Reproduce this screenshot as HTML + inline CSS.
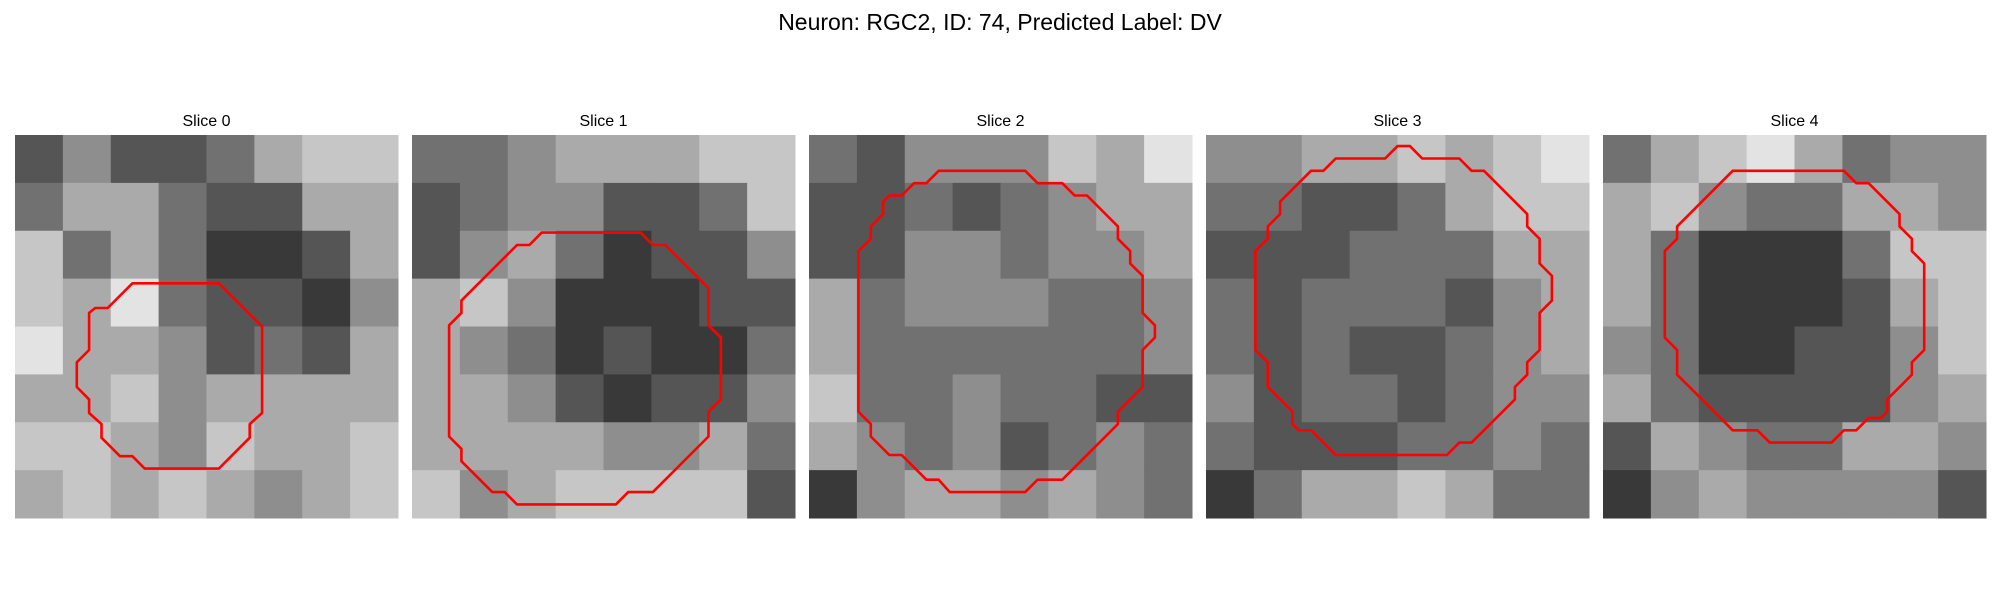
<!DOCTYPE html>
<html><head><meta charset="utf-8"><style>
html,body{margin:0;padding:0;background:#fff;}
svg{display:block;font-family:"Liberation Sans","DejaVu Sans",sans-serif;}
</style></head><body>
<svg id="fig" width="2000" height="600" viewBox="0 0 2000 600">
<text x="1000" y="30" text-anchor="middle" font-size="23" fill="#000">Neuron: RGC2, ID: 74, Predicted Label: DV</text>
</svg>
<script>
const sliceLabels = ["Slice 0","Slice 1","Slice 2","Slice 3","Slice 4"];
// coarse brightness grids (0 dark .. 9 white), 8x8 per slice
const slice0 = [[3,5,3,3,4,6,7,7],[4,6,6,4,3,3,6,6],[7,4,6,4,2,2,3,6],[7,6,8,4,3,3,2,5],[8,6,6,5,3,4,3,6],[6,6,7,5,6,6,6,6],[7,7,6,5,7,6,6,7],[6,7,6,7,6,5,6,7]];
const slice1 = [[4,4,5,6,6,6,7,7],[3,4,5,5,3,3,4,7],[3,5,6,4,2,3,3,5],[6,7,5,2,2,2,3,3],[6,5,4,2,3,2,2,4],[6,6,5,3,2,3,3,5],[6,6,6,6,5,5,6,4],[7,5,6,7,7,7,7,3]];
const slice2 = [[4,3,5,5,5,7,6,8],[3,3,4,3,4,5,6,6],[3,3,5,5,4,5,5,6],[6,4,5,5,5,4,4,5],[6,4,4,4,4,4,4,5],[7,4,4,5,4,4,3,3],[6,5,4,5,3,4,5,4],[2,5,6,6,5,6,5,4]];
const slice3 = [[5,5,6,6,7,6,7,8],[4,4,3,3,4,6,7,7],[3,3,3,4,4,4,6,6],[4,3,4,4,4,3,5,6],[4,3,4,3,3,4,5,6],[5,3,4,4,3,4,5,5],[4,3,3,3,4,4,5,4],[2,4,6,6,7,6,4,4]];
const slice4 = [[4,6,7,8,6,4,5,5],[6,7,5,4,4,6,6,5],[6,4,2,2,2,4,7,7],[6,4,2,2,2,3,6,7],[5,4,2,2,3,3,5,7],[6,4,3,3,3,3,5,6],[3,6,5,4,4,6,6,5],[2,5,6,5,5,5,5,3]];
// contour vertices in pixel-cell units (image is 31x31)
const contour0 = [[9.5,12],[16.5,12],[20,15.5],[20,22.5],[19,23.4],[19,24.5],[16.5,27],[10.5,27],[9.5,26],[8.5,26],[7,24.5],[7,23.4],[6,22.5],[6,21.4],[5,20.4],[5,18.4],[6,17.4],[6,14.4],[6.5,14],[7.5,14]];
const contour1 = [[10.5,7.9],[18.5,7.9],[19.5,8.9],[20.5,8.9],[24,12.4],[24,15.4],[25,16.4],[25,21.4],[24,22.4],[24,24.4],[19.5,28.9],[17.5,28.9],[16.5,29.9],[8.5,29.9],[7.5,28.9],[6.5,28.9],[4,26.4],[4,25.4],[3,24.4],[3,15.4],[4,14.4],[4,13.4],[8.5,8.9],[9.5,8.9]];
const contour2 = [[10.5,2.9],[17.5,2.9],[18.5,3.9],[20.5,3.9],[21.5,4.9],[22.5,4.9],[25,7.4],[25,8.4],[26,9.4],[26,10.4],[27,11.4],[27,14.4],[28,15.4],[28,16.4],[27,17.4],[27,20.4],[25,22.4],[25,23.4],[20.5,27.9],[18.5,27.9],[17.5,28.9],[11.4,28.9],[10.5,27.9],[9.5,27.9],[7.5,25.9],[6.5,25.9],[5,24.4],[5,23.4],[4,22.4],[4,9.4],[5,8.4],[5,7.4],[6,6.4],[6,5.4],[6.5,4.9],[7.5,4.9],[8.5,3.9],[9.5,3.9]];
const contour3 = [[15.5,0.9],[16.5,0.9],[17.5,1.9],[20.5,1.9],[21.5,2.9],[22.5,2.9],[26,6.4],[26,7.4],[27,8.4],[27,10.4],[28,11.4],[28,13.4],[27,14.4],[27,17.4],[26,18.4],[26,19.4],[25,20.4],[25,21.4],[21.5,24.9],[20.5,24.9],[19.5,25.9],[10.5,25.9],[8.5,23.9],[7.5,23.9],[7,23.4],[7,22.4],[5,20.4],[5,18.4],[4,17.4],[4,9.4],[5,8.4],[5,7.4],[6,6.4],[6,5.4],[8.5,2.9],[9.5,2.9],[10.5,1.9],[14.5,1.9]];
const contour4 = [[10.5,2.9],[19.5,2.9],[20.5,3.9],[21.5,3.9],[24,6.4],[24,7.4],[25,8.4],[25,9.4],[26,10.4],[26,17.4],[25,18.4],[25,19.4],[23,21.4],[23,22.4],[22.5,22.9],[21.5,22.9],[20.5,23.9],[19.5,23.9],[18.5,24.9],[13.5,24.9],[12.5,23.9],[10.5,23.9],[7,20.4],[6,19.4],[6,17.4],[5,16.4],[5,9.4],[6,8.4],[6,7.4]];

const grids=[slice0,slice1,slice2,slice3,slice4];
const contours=[contour0,contour1,contour2,contour3,contour4];
const NS="http://www.w3.org/2000/svg";
const svg=document.getElementById('fig');
const panelX=[15,412,809,1206,1603], panelY=135, panelW=383, nPix=31;
function mk(t,a){const e=document.createElementNS(NS,t);for(const k in a)e.setAttribute(k,a[k]);return e;}
grids.forEach((g,p)=>{
  const x0=panelX[p];
  const grp=mk('g',{});
  
  
  svg.appendChild(grp);
  const t=mk('text',{x:x0+panelW/2,y:126,'text-anchor':'middle','font-size':'16',fill:'#000'});
  t.textContent=sliceLabels[p];
  
  
  grp.appendChild(t);
  const n=g.length, cs=panelW/n;
  g.forEach((row,r)=>row.forEach((v,c)=>{
    const gv=Math.round(v*255/9);
    const rc=mk('rect',{x:(x0+c*cs).toFixed(2),y:(panelY+r*cs).toFixed(2),width:(cs+0.5).toFixed(2),height:(cs+0.5).toFixed(2),fill:`rgb(${gv},${gv},${gv})`});
    
    
    grp.appendChild(rc);
  }));
  const s=panelW/nPix;
  const pts=contours[p].map(q=>(x0+q[0]*s).toFixed(1)+','+(panelY+q[1]*s).toFixed(1)).join(' ');
  const pl=mk('polygon',{points:pts,fill:'none',stroke:'#ff0000','stroke-width':'2.6','stroke-linejoin':'round'});
  
  
  grp.appendChild(pl);
});
</script>
</body></html>
